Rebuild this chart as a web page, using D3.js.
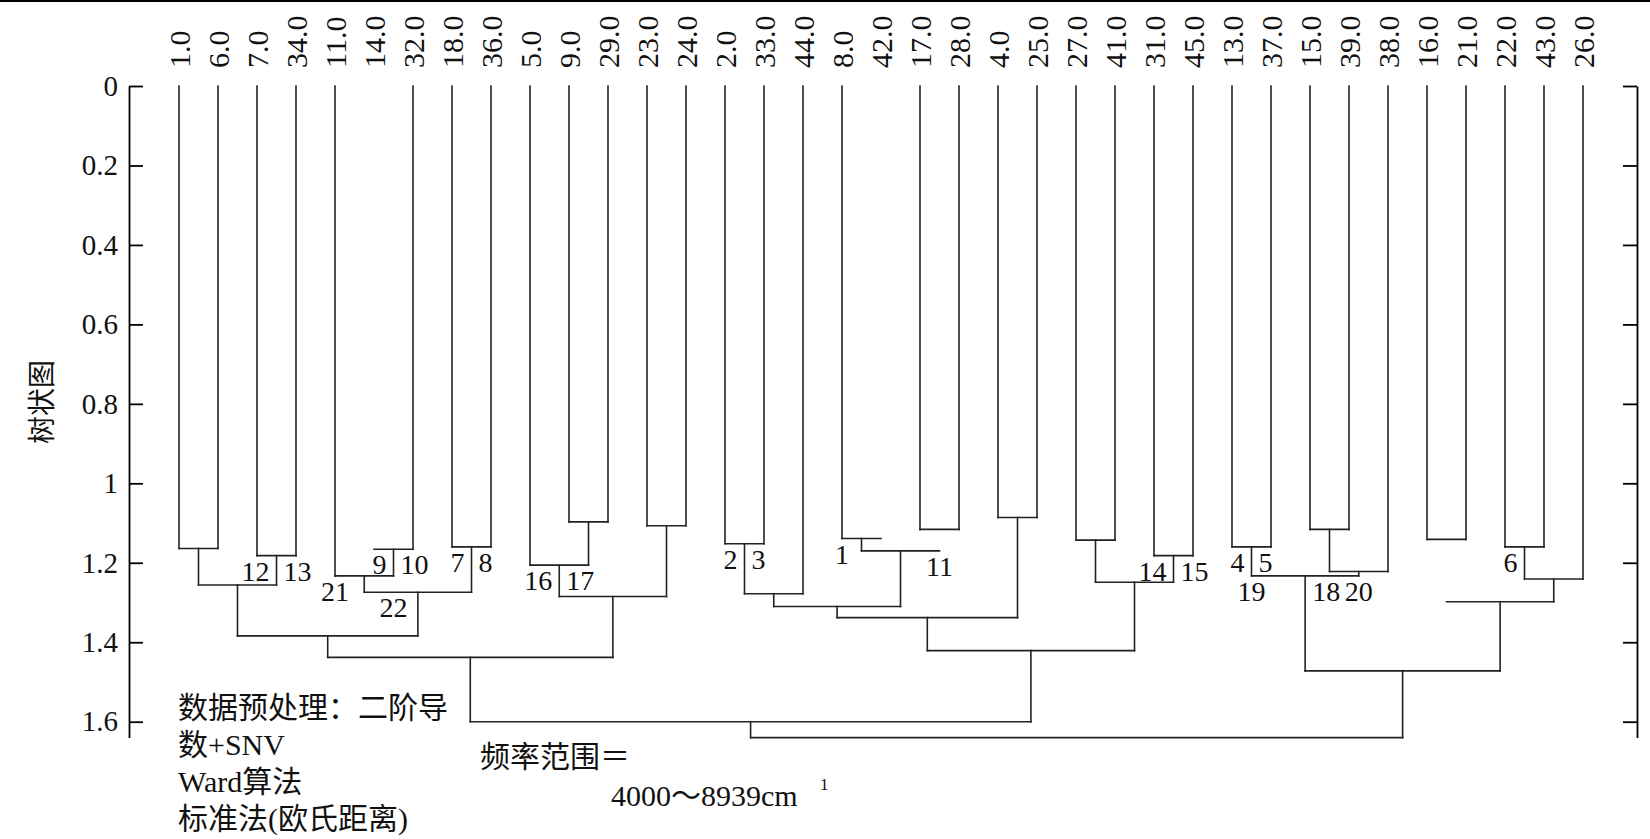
<!DOCTYPE html>
<html>
<head>
<meta charset="utf-8">
<script src="https://cdn.jsdelivr.net/npm/d3@7"></script>
<style>
  body { margin: 0; background: #fff; }
  svg text { font-family: "Liberation Serif", "Times New Roman", "Noto Sans CJK SC", serif; fill: #111; }
</style>
</head>
<body>
<svg id="canvas"></svg>
<script>
let width = 1650;
let height = 839;

// leaf order along the bottom
let leaves = ['1.0','6.0','7.0','34.0','11.0','14.0','32.0','18.0','36.0','5.0','9.0','29.0','23.0','24.0',
  '2.0','33.0','44.0','8.0','42.0','17.0','28.0','4.0','25.0','27.0','41.0','31.0','45.0',
  '13.0','37.0','15.0','39.0','38.0','16.0','21.0','22.0','43.0','26.0'];

// merges: id, left child, right child, height
let mergeIds    = ['a','b','c','d','e','f','g','h','i','j','k','l','m',
                   'n','o','p','q','r','s','t','u','v','w','x','y','z',
                   'A','B','C','D','E','F','G','H','I','J'];
let mergeLeft   = ['1.0','7.0','a','14.0','11.0','18.0','e','c','9.0','5.0','23.0','j','h',
                   '2.0','n','8.0','17.0','p','o','4.0','s','27.0','31.0','v','u','m',
                   '13.0','15.0','B','A','16.0','22.0','F','E','D','z'];
let mergeRight  = ['6.0','34.0','b','32.0','d','36.0','f','g','29.0','i','24.0','k','l',
                   '33.0','44.0','42.0','28.0','q','r','25.0','t','41.0','45.0','w','x','y',
                   '37.0','39.0','38.0','C','21.0','43.0','26.0','G','H','I'];
let mergeHeights = [1.164,1.182,1.256,1.166,1.233,1.160,1.274,1.384,1.097,1.206,1.107,1.285,1.438,
                    1.152,1.278,1.139,1.116,1.170,1.310,1.086,1.338,1.143,1.182,1.249,1.421,1.600,
                    1.160,1.116,1.222,1.233,1.141,1.160,1.241,1.298,1.472,1.640];

// stems that are not drawn in the original figure
let hiddenStems = ['14.0','42.0','q','E'];

// merge step numbers: text, node for x, node for level, anchor
let stepText   = ['1','2','3','4','5','6','7','8','9','10','11','12','13','14','15','16','17','18','19','20','21','22'];
let stepXNode  = ['8.0','n','n','A','A','F','f','f','d','d','q','b','b','w','w','j','j','D','A','C','11.0','d'];
let stepYNode  = ['p','n','n','A','A','F','f','f','d','d','r','b','b','w','w','j','j','D','D','D','e','g'];
let stepAnchor = ['middle','end','start','end','start','end','end','start','end','start','middle',
                  'end','start','end','start','end','start','start','middle','middle','middle','middle'];

let yTicks = [0,0.2,0.4,0.6,0.8,1,1.2,1.4,1.6];

let yTitle = '树状图';
let noteLines = ['数据预处理：二阶导','数+SNV','Ward算法','标准法(欧氏距离)'];
let rangeLabel = '频率范围＝';
let rangeValue = '4000～8939cm';
let rangeSup = '1';

let svg = d3.select('#canvas').attr('width', width).attr('height', height);

let xScale = d3.scalePoint().domain(leaves).range([179, 1583]);
let yScale = d3.scaleLinear().domain([0, 1.6]).range([86, 721.7]);
let yAxisScale = d3.scaleLinear().domain([0, 1.64]).range([86, yScale(1.64)]);

// top rule
svg.append('line').attr('x1', 0).attr('x2', width).attr('y1', 1).attr('y2', 1)
  .attr('stroke', '#000').attr('stroke-width', 2);

// build node positions
let nodes = {};
leaves.forEach(l => { nodes[l] = { x: xScale(l), h: 0 }; });
mergeIds.forEach((id, i) => {
  let a = nodes[mergeLeft[i]];
  let b = nodes[mergeRight[i]];
  nodes[id] = { x: (a.x + b.x) / 2, h: mergeHeights[i] };
});

let segs = [];
mergeIds.forEach((id, i) => {
  let h = mergeHeights[i];
  let a = nodes[mergeLeft[i]];
  let b = nodes[mergeRight[i]];
  segs.push({ x1: a.x, x2: b.x, y1: yScale(h), y2: yScale(h) });
  [mergeLeft[i], mergeRight[i]].forEach(c => {
    if (hiddenStems.includes(c)) return;
    let n = nodes[c];
    segs.push({ x1: n.x, x2: n.x, y1: yScale(n.h), y2: yScale(h) });
  });
});

svg.append('g').selectAll('line')
  .data(segs)
  .enter()
  .append('line')
  .attr('x1', d => d.x1).attr('x2', d => d.x2)
  .attr('y1', d => d.y1).attr('y2', d => d.y2)
  .attr('stroke', '#222')
  .attr('stroke-width', 1.6)
  .attr('stroke-linecap', 'square');

// leaf labels
svg.append('g').selectAll('text')
  .data(leaves)
  .enter()
  .append('text')
  .attr('transform', d => 'translate(' + xScale(d) + ',68) rotate(-90)')
  .attr('dy', '0.35em')
  .attr('font-size', 30)
  .text(d => d);

// axes
let leftAxis = d3.axisLeft(yAxisScale).tickValues(yTicks).tickFormat(d3.format('~g'))
  .tickSizeInner(-14).tickSizeOuter(0).tickPadding(11);
let rightAxis = d3.axisRight(yAxisScale).tickValues(yTicks).tickFormat('')
  .tickSizeInner(-14).tickSizeOuter(0);

let gl = svg.append('g').attr('transform', 'translate(129,0)').call(leftAxis);
let gr = svg.append('g').attr('transform', 'translate(1637,0)').call(rightAxis);
[gl, gr].forEach(g => {
  g.attr('font-family', null).attr('font-size', null);
  g.selectAll('path,line').attr('stroke', '#000').attr('stroke-width', 1.8);
});
gl.selectAll('text').attr('font-size', 29).attr('fill', '#111');

// y title
svg.append('text')
  .attr('transform', 'translate(42,402) rotate(-90)')
  .attr('text-anchor', 'middle')
  .attr('dy', '0.35em')
  .attr('font-size', 28)
  .text(yTitle);

// merge step numbers
svg.append('g').selectAll('text')
  .data(stepText)
  .enter()
  .append('text')
  .attr('x', (d, i) => {
    let x = nodes[stepXNode[i]].x;
    if (stepAnchor[i] === 'end') return x - 7;
    if (stepAnchor[i] === 'start') return x + 7;
    return x;
  })
  .attr('y', (d, i) => yScale(nodes[stepYNode[i]].h) + 25)
  .attr('text-anchor', (d, i) => stepAnchor[i])
  .attr('font-size', 28)
  .text(d => d);

// notes
svg.append('g').selectAll('text')
  .data(noteLines)
  .enter()
  .append('text')
  .attr('x', 178)
  .attr('y', (d, i) => 718 + i * 37)
  .attr('font-size', 30)
  .text(d => d);

svg.append('text').attr('x', 480).attr('y', 767).attr('font-size', 30).text(rangeLabel);
svg.append('text').attr('x', 611).attr('y', 806).attr('font-size', 30).text(rangeValue);
svg.append('text').attr('x', 820).attr('y', 790).attr('font-size', 17).text(rangeSup);
</script>
</body>
</html>
